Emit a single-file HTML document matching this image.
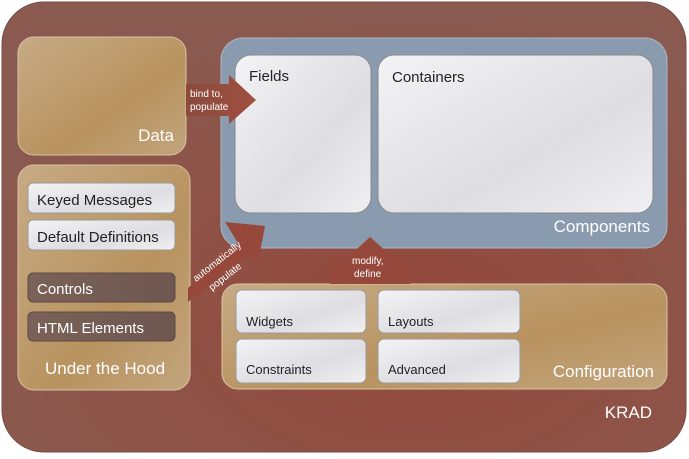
<!DOCTYPE html>
<html><head><style>
html,body{margin:0;padding:0;background:#fff;}
svg text{font-family:"Liberation Sans",Arial,sans-serif;}
</style></head><body>
<svg width="689" height="454" viewBox="0 0 689 454" xmlns="http://www.w3.org/2000/svg">
<defs>
<radialGradient id="bg" cx="0.6" cy="0.7" r="0.7"><stop offset="0" stop-color="#94483a"/><stop offset="1" stop-color="#8a5a50"/></radialGradient>
<linearGradient id="tan" x1="0" y1="0" x2="1" y2="1"><stop offset="0" stop-color="#c7aa85"/><stop offset="0.6" stop-color="#b8935f"/><stop offset="1" stop-color="#c2a47c"/></linearGradient>
<linearGradient id="wh" x1="0" y1="0" x2="1" y2="1"><stop offset="0" stop-color="#f3f3f5"/><stop offset="0.6" stop-color="#dedee2"/><stop offset="1" stop-color="#f0f0f2"/></linearGradient>
<linearGradient id="dk" x1="0" y1="0" x2="1" y2="0"><stop offset="0" stop-color="#7a6258"/><stop offset="1" stop-color="#6e5750"/></linearGradient>
<linearGradient id="ar" x1="0" y1="0" x2="1" y2="0"><stop offset="0" stop-color="#8a4a3c"/><stop offset="1" stop-color="#a05040"/></linearGradient>
</defs>
<rect x="2" y="2" width="684" height="450" rx="42" fill="url(#bg)" stroke="#7a4a42"/>
<!-- Data -->
<rect x="18" y="37" width="168" height="118" rx="16" fill="url(#tan)" stroke="#d8c4a6"/>
<text x="174" y="141" font-size="17" fill="#fff" text-anchor="end">Data</text>
<!-- Under the Hood -->
<rect x="18" y="165" width="172" height="225" rx="16" fill="url(#tan)" stroke="#d8c4a6"/>
<rect x="28" y="183" width="147" height="30" rx="5" fill="url(#wh)" stroke="#999"/>
<text x="37" y="205" font-size="15" fill="#222">Keyed Messages</text>
<rect x="28" y="220" width="147" height="30" rx="5" fill="url(#wh)" stroke="#999"/>
<text x="37" y="242" font-size="15" fill="#222">Default Definitions</text>
<rect x="28" y="273" width="147" height="29" rx="5" fill="url(#dk)" stroke="#5e4a44"/>
<text x="37" y="294" font-size="15" fill="#fff">Controls</text>
<rect x="28" y="312" width="147" height="29" rx="5" fill="url(#dk)" stroke="#5e4a44"/>
<text x="37" y="333" font-size="15" fill="#fff">HTML Elements</text>
<text x="45" y="374" font-size="17" fill="#fff">Under the Hood</text>
<!-- Components -->
<rect x="221" y="38" width="446" height="210" rx="22" fill="#8a9bb0" stroke="#aab6c4"/>
<rect x="235" y="55" width="136" height="158" rx="16" fill="url(#wh)" stroke="#888"/>
<text x="249" y="81" font-size="15" fill="#222">Fields</text>
<rect x="378" y="55" width="275" height="158" rx="16" fill="url(#wh)" stroke="#888"/>
<text x="392" y="82" font-size="15" fill="#222">Containers</text>
<text x="650" y="232" font-size="17" fill="#fff" text-anchor="end">Components</text>
<!-- Configuration -->
<rect x="222" y="284" width="445" height="105" rx="16" fill="url(#tan)" stroke="#d8c4a6"/>
<rect x="236" y="290" width="130" height="43" rx="6" fill="url(#wh)" stroke="#999"/>
<text x="246" y="326" font-size="13" fill="#222">Widgets</text>
<rect x="378" y="290" width="142" height="43" rx="6" fill="url(#wh)" stroke="#999"/>
<text x="388" y="326" font-size="13" fill="#222">Layouts</text>
<rect x="236" y="339" width="130" height="44" rx="6" fill="url(#wh)" stroke="#999"/>
<text x="246" y="374" font-size="13" fill="#222">Constraints</text>
<rect x="378" y="339" width="142" height="44" rx="6" fill="url(#wh)" stroke="#999"/>
<text x="388" y="374" font-size="13" fill="#222">Advanced</text>
<text x="654" y="377" font-size="17" fill="#fff" text-anchor="end">Configuration</text>
<text x="652" y="418" font-size="17" fill="#fff" text-anchor="end">KRAD</text>
<!-- arrows -->
<polygon points="186,84 229,84 229,75 256,100 229,124 229,116 186,116" fill="url(#ar)"/>
<text x="190" y="97" font-size="10" fill="#fff">bind to,</text>
<text x="190" y="110" font-size="10" fill="#fff">populate</text>
<polygon points="188,302 188,288 238,243 225,222 265,226 258,263 249,254" fill="#96483a"/>
<text transform="translate(196,282) rotate(-38)" font-size="10" fill="#fff">automatically</text>
<text transform="translate(212,291) rotate(-38)" font-size="10" fill="#fff">populate</text>
<polygon points="330,284 330,260 345,260 370,237 396,260 410,260 410,284" fill="#96483a"/>
<text x="352" y="264" font-size="10" fill="#fff">modify,</text>
<text x="354" y="277" font-size="10" fill="#fff">define</text>
</svg>
</body></html>
